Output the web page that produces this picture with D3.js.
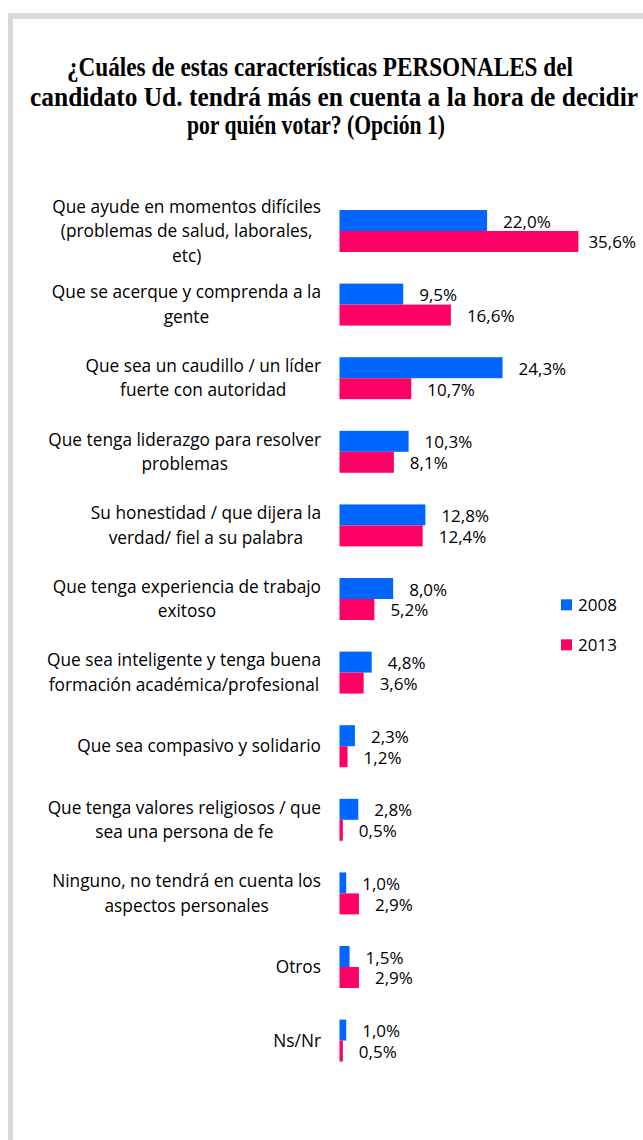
<!DOCTYPE html>
<html><head><meta charset="utf-8">
<script src="https://cdn.jsdelivr.net/npm/d3@7"></script>
<style>html,body{margin:0;padding:0;background:#fff;}svg{display:block;}</style>
</head><body>
<script>
const titleLines = ["¿Cuáles de estas características PERSONALES del",
  "candidato Ud. tendrá más en cuenta a la hora de decidir",
  "por quién votar? (Opción 1)"];
const categories = [
  ["Que ayude en momentos difíciles","(problemas de salud, laborales,","etc)"],
  ["Que se acerque y comprenda a la","gente"],
  ["Que sea un caudillo / un líder","fuerte con autoridad"],
  ["Que tenga liderazgo para resolver","problemas"],
  ["Su honestidad / que dijera la","verdad/ fiel a su palabra"],
  ["Que tenga experiencia de trabajo","exitoso"],
  ["Que sea inteligente y tenga buena","formación académica/profesional"],
  ["Que sea compasivo y solidario"],
  ["Que tenga valores religiosos / que","sea una persona de fe"],
  ["Ninguno, no tendrá en cuenta los","aspectos personales"],
  ["Otros"],
  ["Ns/Nr"]
];
const series = ["2008","2013"];
const values2008 = [22.0, 9.5, 24.3, 10.3, 12.8, 8.0, 4.8, 2.3, 2.8, 1.0, 1.5, 1.0];
const values2013 = [35.6, 16.6, 10.7, 8.1, 12.4, 5.2, 3.6, 1.2, 0.5, 2.9, 2.9, 0.5];
const colors = ["#0066ff", "#ff0066"];

const W = 643, H = 1140;
const svg = d3.select("body").append("svg").attr("width", W).attr("height", H);

// frame
svg.append("rect").attr("x", 8).attr("y", 13).attr("width", W - 8).attr("height", 6).attr("fill", "#d9d9d9");
svg.append("rect").attr("x", 8).attr("y", 13).attr("width", 5).attr("height", H - 13).attr("fill", "#d9d9d9");

// title
const titleSpec = [{x:67, w:506, y:76},{x:30, w:608, y:106},{x:187, w:258, y:134}];
svg.append("g").selectAll("g").data(titleLines).join("g")
  .attr("transform", (d,i) => `translate(${titleSpec[i].x},${titleSpec[i].y}) scale(1,1.12)`)
  .append("text")
  .attr("x", 0).attr("y", 0)
  .attr("textLength", (d,i) => titleSpec[i].w).attr("lengthAdjust", "spacingAndGlyphs")
  .attr("font-family", "Liberation Serif, serif").attr("font-weight", "bold")
  .attr("font-size", 24).attr("fill", "#000").text(d => d);

const idx = d3.range(categories.length);
const y = d3.scaleBand().domain(idx).range([194.2, 194.2 + 12 * 73.6]).paddingInner(0.43).paddingOuter(0.215);
const ySub = d3.scaleBand().domain(series).range([0, y.bandwidth()]);
const x = d3.scaleLinear().domain([0, 36]).range([339.5, 339.5 + 36 * 6.71]);

const rows = idx.map(i => ({i, vals: [values2008[i], values2013[i]]}));
const g = svg.append("g");
const grp = g.selectAll("g.grp").data(rows).join("g").attr("class", "grp")
  .attr("transform", d => `translate(0,${y(d.i)})`);

grp.selectAll("rect").data(d => d.vals.map((v, k) => ({v, k}))).join("rect")
  .attr("x", x(0)).attr("y", d => ySub(series[d.k]))
  .attr("width", d => x(d.v) - x(0)).attr("height", ySub.bandwidth())
  .attr("fill", d => colors[d.k]);

const fmt = v => v.toFixed(1).replace(".", ",") + "%";
grp.selectAll("text.val").data(d => d.vals.map((v, k) => ({v, k}))).join("text").attr("class", "val")
  .attr("font-family", "Open Sans, sans-serif").attr("font-size", 17).attr("fill", "#000")
  .attr("y", d => ySub(series[d.k]) + ySub.bandwidth() - 3.5)
  .text(d => fmt(d.v))
  .attr("x", function(d) {
    const w = this.getComputedTextLength();
    return Math.min(x(d.v) + 16, 636 - w);
  });

// category labels
const labG = svg.append("g").attr("font-family", "Open Sans, sans-serif").attr("font-size", 17.3).attr("fill", "#000");
rows.forEach(r => {
  const lines = categories[r.i];
  const lg = labG.append("g");
  const lh = 24.5;
  const cy = y(r.i) + y.bandwidth() / 2;
  const ts = lg.selectAll("text").data(lines).join("text")
    .attr("y", (d, k) => cy + (k - (lines.length - 1) / 2) * lh + 6)
    .attr("text-anchor", "middle").text(d => d);
  let maxW = 0;
  ts.each(function() { maxW = Math.max(maxW, this.getComputedTextLength()); });
  ts.attr("x", 321 - maxW / 2);
});

// legend
const leg = svg.append("g").attr("font-family", "Open Sans, sans-serif").attr("font-size", 17);
series.forEach((s, k) => {
  leg.append("rect").attr("x", 561).attr("y", 599.3 + k * 40).attr("width", 11).attr("height", 11).attr("fill", colors[k]);
  leg.append("text").attr("x", 578).attr("y", 610.5 + k * 40).text(s);
});
</script>
</body></html>
